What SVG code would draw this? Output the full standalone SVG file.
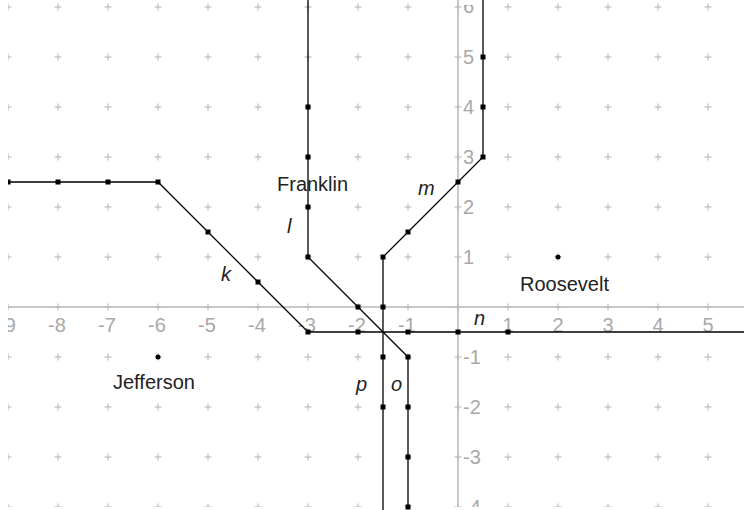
<svg xmlns="http://www.w3.org/2000/svg" width="744" height="510" viewBox="0 0 744 510">
<defs>
<style>
.ax{stroke:#b8b8b8;stroke-width:1.5;fill:none}
.axl{font-family:"Liberation Sans",Arial,sans-serif;font-size:20px;fill:#a8a8a8}
.ln{stroke:#000;stroke-width:1.3;fill:none}
.nm{font-family:"Liberation Sans",Arial,sans-serif;font-size:20px;fill:#222}
.it{font-family:"Liberation Sans",Arial,sans-serif;font-size:20px;font-style:italic;fill:#222}
.dt{fill:#000}
</style>
<pattern id="grid" patternUnits="userSpaceOnUse" x="-17" y="-18" width="50" height="50">
<rect x="21.5" y="24.5" width="7" height="1" fill="#b4b4b4"/>
<rect x="24.5" y="21.5" width="1" height="7" fill="#b4b4b4"/>
</pattern>
<clipPath id="area"><rect x="8" y="5" width="736" height="502"/></clipPath>
<rect id="sq" x="-2.5" y="-2.5" width="5" height="5"/>
</defs>
<rect width="744" height="510" fill="#fff"/>
<g id="grid-points">
<rect x="8" y="0" width="736" height="507" fill="url(#grid)"/>
</g>
<g id="axes">
<path class="ax" d="M8 307H744M458 0V506"/>
<g clip-path="url(#area)">
<g class="axl" text-anchor="middle">
<text x="7" y="332">-9</text>
<text x="57" y="332">-8</text>
<text x="107" y="332">-7</text>
<text x="157" y="332">-6</text>
<text x="207" y="332">-5</text>
<text x="257" y="332">-4</text>
<text x="307" y="332">-3</text>
<text x="357" y="332">-2</text>
<text x="407" y="332">-1</text>
<text x="508" y="332">1</text>
<text x="558" y="332">2</text>
<text x="608" y="332">3</text>
<text x="658" y="332">4</text>
<text x="708" y="332">5</text>
</g>
<g class="axl">
<text x="463" y="13">6</text>
<text x="463" y="64">5</text>
<text x="463" y="114">4</text>
<text x="463" y="164">3</text>
<text x="463" y="214">2</text>
<text x="463" y="264">1</text>
<text x="463" y="364">-1</text>
<text x="463" y="414">-2</text>
<text x="463" y="464">-3</text>
<text x="463" y="514">-4</text>
</g>
</g>
</g>
<g id="connectors">
<path id="k" class="ln" d="M8 182H158L308 332"/>
<path id="n" class="ln" d="M308 332H744"/>
<path id="l" class="ln" d="M308 0V257L408 357"/>
<path id="o" class="ln" d="M408 357V508"/>
<path id="p" class="ln" d="M383 257V510"/>
<path id="m" class="ln" d="M383 257L483 157V0"/>
<g class="dt">
<rect x="8" y="179.5" width="2.5" height="5"/><use href="#sq" x="58" y="182"/><use href="#sq" x="108" y="182"/><use href="#sq" x="158" y="182"/>
<use href="#sq" x="208" y="232"/><use href="#sq" x="258" y="282"/>
<use href="#sq" x="308" y="332"/><use href="#sq" x="358" y="332"/><use href="#sq" x="408" y="332"/><use href="#sq" x="458" y="332"/><use href="#sq" x="508" y="332"/>
<use href="#sq" x="308" y="107"/><use href="#sq" x="308" y="157"/><use href="#sq" x="308" y="207"/><use href="#sq" x="308" y="257"/><use href="#sq" x="358" y="307"/>
<use href="#sq" x="408" y="357"/><use href="#sq" x="408" y="407"/><use href="#sq" x="408" y="457"/><use href="#sq" x="408" y="507"/>
<use href="#sq" x="383" y="257"/><use href="#sq" x="383" y="307"/><use href="#sq" x="383" y="357"/><use href="#sq" x="383" y="407"/>
<use href="#sq" x="408" y="232"/><use href="#sq" x="458" y="182"/><use href="#sq" x="483" y="157"/><use href="#sq" x="483" y="107"/><use href="#sq" x="483" y="57"/>
</g>
<g class="it">
<text x="221" y="281">k</text>
<text x="287" y="233">l</text>
<text x="418" y="195">m</text>
<text x="474" y="325">n</text>
<text x="356" y="391">p</text>
<text x="391" y="391">o</text>
</g>
</g>
<g id="Franklin">
<text class="nm" x="277" y="191">Franklin</text>
</g>
<g id="Roosevelt">
<circle class="dt" cx="558" cy="257" r="2.5"/>
<text class="nm" x="520" y="291">Roosevelt</text>
</g>
<g id="Jefferson">
<circle class="dt" cx="158" cy="357" r="2.5"/>
<text class="nm" x="113" y="389">Jefferson</text>
</g>
</svg>
